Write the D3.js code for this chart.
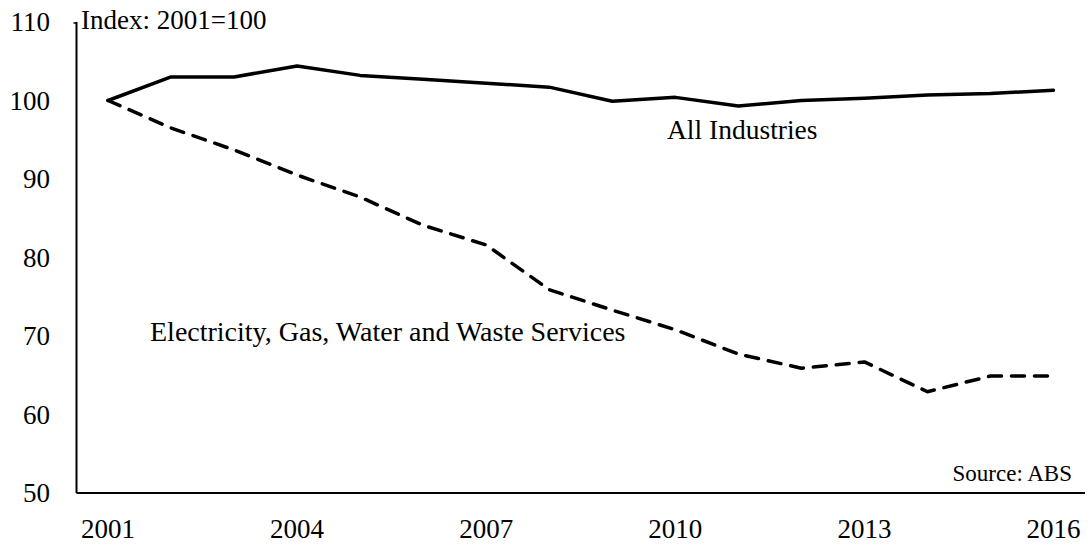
<!DOCTYPE html>
<html><head><meta charset="utf-8">
<script src="https://cdn.jsdelivr.net/npm/d3@7"></script>
<style>
html,body{margin:0;padding:0;background:#fff;}
svg text{font-family:"Liberation Serif","DejaVu Serif",serif;fill:#000;}
</style></head>
<body><svg id="c" width="1090" height="545"></svg>
<script>
const years = ["2001","2002","2003","2004","2005","2006","2007","2008","2009","2010","2011","2012","2013","2014","2015","2016"];
const allIndustries = [100,103.0,103.0,104.4,103.2,102.7,102.2,101.7,99.9,100.4,99.3,100.0,100.3,100.7,100.9,101.3];
const electricity = [100,96.5,93.7,90.5,87.7,84.1,81.6,75.9,73.3,70.8,67.7,65.9,66.7,62.9,64.9,64.9];
const yTicks = [50,60,70,80,90,100,110];
const xTickLabels = ["2001","2004","2007","2010","2013","2016"];

const svg = d3.select("#c");
const mLeft = 76.5, mRight = 1085, mTop = 22, mBottom = 493;
const x = d3.scaleBand().domain(years).range([mLeft, mRight]);
const y = d3.scaleLinear().domain([50,110]).range([mBottom, mTop]);
const cx = d => x(d) + x.bandwidth()/2;

// axes lines
svg.append("line").attr("x1",mLeft).attr("x2",mLeft).attr("y1",mTop).attr("y2",mBottom)
  .attr("stroke","#000").attr("stroke-width",2);
svg.append("line").attr("x1",mLeft-3).attr("x2",mLeft).attr("y1",mTop+1).attr("y2",mTop+1)
  .attr("stroke","#000").attr("stroke-width",1.5);
svg.append("line").attr("x1",mLeft).attr("x2",mRight).attr("y1",mBottom).attr("y2",mBottom)
  .attr("stroke","#000").attr("stroke-width",2);

// y tick labels
svg.append("g").selectAll("text").data(yTicks).join("text")
  .attr("x",50).attr("y",d=>y(d)).attr("dy","0.34em")
  .attr("text-anchor","end").style("font-size","27px").text(d=>d);

// x tick labels
svg.append("g").selectAll("text").data(xTickLabels).join("text")
  .attr("x",d=>cx(d)).attr("y",538)
  .attr("text-anchor","middle").style("font-size","27px").text(d=>d);

const line = d3.line().x((d,i)=>cx(years[i])).y(d=>y(d));
svg.append("path").datum(allIndustries).attr("d",line)
  .attr("fill","none").attr("stroke","#000").attr("stroke-width",3.5)
  .attr("stroke-linejoin","round").attr("stroke-linecap","round");
svg.append("path").datum(electricity).attr("d",line)
  .attr("fill","none").attr("stroke","#000").attr("stroke-width",3.5)
  .attr("stroke-dasharray","13,10")
  .attr("stroke-linejoin","round").attr("stroke-linecap","round");

svg.append("text").attr("x",81).attr("y",29).style("font-size","27px").text("Index: 2001=100");
svg.append("text").attr("x",667).attr("y",139).style("font-size","27.5px").text("All Industries");
svg.append("text").attr("x",150).attr("y",341).style("font-size","28px").text("Electricity, Gas, Water and Waste Services");
svg.append("text").attr("x",1072).attr("y",481).attr("text-anchor","end").style("font-size","23px").text("Source: ABS");
</script></body></html>
